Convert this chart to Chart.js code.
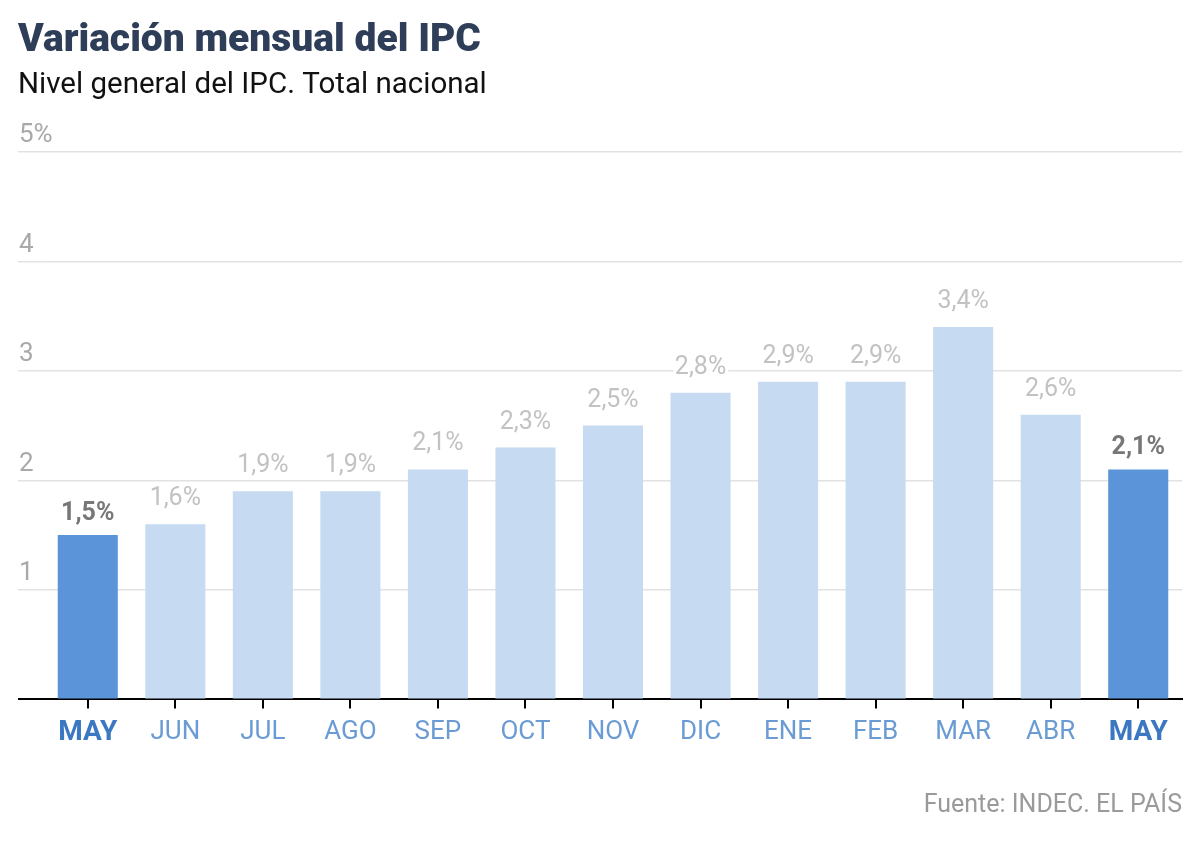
<!DOCTYPE html>
<html>
<head>
<meta charset="utf-8">
<script src="https://cdn.jsdelivr.net/npm/chart.js@4/dist/chart.umd.min.js"></script>
<style>
  html, body { margin: 0; padding: 0; background: #ffffff; }
  #wrap { width: 1200px; height: 844px; position: relative; }
</style>
</head>
<body>
<div id="wrap"><canvas id="c" width="1200" height="844"></canvas></div>
<script>
const categories = ['MAY','JUN','JUL','AGO','SEP','OCT','NOV','DIC','ENE','FEB','MAR','ABR','MAY'];
const values = [1.5, 1.6, 1.9, 1.9, 2.1, 2.3, 2.5, 2.8, 2.9, 2.9, 3.4, 2.6, 2.1];
const highlighted = [true, false, false, false, false, false, false, false, false, false, false, false, true];
const valueLabels = ['1,5%','1,6%','1,9%','1,9%','2,1%','2,3%','2,5%','2,8%','2,9%','2,9%','3,4%','2,6%','2,1%'];
const yTicks = [0, 1, 2, 3, 4, 5];
const yTickLabels = ['', '1', '2', '3', '4', '5%'];
const titleText = 'Variación mensual del IPC';
const subtitleText = 'Nivel general del IPC. Total nacional';
const sourceText = 'Fuente: INDEC. EL PAÍS';

const DARK = '#5b94d9';
const LIGHT = '#c6daf1';
const FONT = 'Roboto, "Liberation Sans", sans-serif';

const valueLabelPlugin = {
  id: 'valueLabels',
  afterDatasetsDraw(chart) {
    const ctx = chart.ctx;
    const meta = chart.getDatasetMeta(0);
    ctx.save();
    ctx.textAlign = 'center';
    ctx.textBaseline = 'alphabetic';
    meta.data.forEach((bar, i) => {
      const hl = highlighted[i];
      ctx.font = (hl ? 'bold 25px ' : '25px ') + FONT;
      const y = bar.y - (hl ? 15 : 19);
      ctx.lineWidth = 6;
      ctx.strokeStyle = '#ffffff';
      ctx.lineJoin = 'round';
      ctx.strokeText(valueLabels[i], bar.x, y);
      ctx.fillStyle = hl ? '#777777' : '#c2c2c2';
      ctx.fillText(valueLabels[i], bar.x, y);
    });
    ctx.restore();
  }
};

const sourcePlugin = {
  id: 'sourceText',
  afterDraw(chart) {
    const ctx = chart.ctx;
    ctx.save();
    ctx.font = '25px ' + FONT;
    ctx.fillStyle = '#9a9a9a';
    ctx.textAlign = 'right';
    ctx.textBaseline = 'middle';
    ctx.fillText(sourceText, chart.width - 18, 806);
    ctx.restore();
  }
};

new Chart(document.getElementById('c'), {
  type: 'bar',
  data: {
    labels: categories,
    datasets: [{
      data: values,
      backgroundColor: highlighted.map(h => h ? DARK : LIGHT),
      borderWidth: 0,
      categoryPercentage: 0.686,
      barPercentage: 1.0
    }]
  },
  options: {
    responsive: false,
    animation: false,
    devicePixelRatio: 1,
    layout: { padding: { left: 18, right: 18, top: 0, bottom: 86 } },
    plugins: {
      legend: { display: false },
      tooltip: { enabled: false },
      title: {
        display: true,
        text: titleText,
        align: 'start',
        color: '#2e3d58',
        font: { family: FONT, size: 39, weight: '900', lineHeight: 1.2 },
        padding: { top: 18, bottom: 0 }
      },
      subtitle: {
        display: true,
        text: subtitleText,
        align: 'start',
        color: '#111111',
        font: { family: FONT, size: 29.5, weight: '400', lineHeight: 1.2 },
        padding: { top: 3, bottom: 48.6 }
      }
    },
    scales: {
      x: {
        offset: true,
        grid: {
          display: true,
          offset: false,
          drawOnChartArea: false,
          drawTicks: true,
          tickLength: 9,
          color: '#000000',
          lineWidth: 2
        },
        border: { display: true, color: '#000000', width: 2 },
        ticks: {
          padding: 8,
          color: ctx => highlighted[ctx.index] ? '#3b78c2' : '#6a9bd4',
          font: ctx => highlighted[ctx.index]
            ? { family: FONT, size: 28, weight: 'bold' }
            : { family: FONT, size: 26, weight: '400' }
        }
      },
      y: {
        min: 0,
        max: 5,
        afterFit(scale) { scale.width = 26; },
        afterBuildTicks(scale) { scale.ticks = yTicks.map(v => ({ value: v })); },
        grid: {
          drawTicks: true,
          tickLength: 26,
          color: ctx => ctx.tick && ctx.tick.value === 0 ? '#000000' : '#e2e2e2',
          lineWidth: ctx => ctx.tick && ctx.tick.value === 0 ? 2 : 1.5
        },
        border: { display: false },
        ticks: {
          mirror: true,
          padding: -25,
          labelOffset: -16,
          color: '#a9a9a9',
          font: { family: FONT, size: 26, weight: '400' },
          callback: (v, i) => yTickLabels[i]
        }
      }
    }
  },
  plugins: [valueLabelPlugin, sourcePlugin]
});
</script>
</body>
</html>
